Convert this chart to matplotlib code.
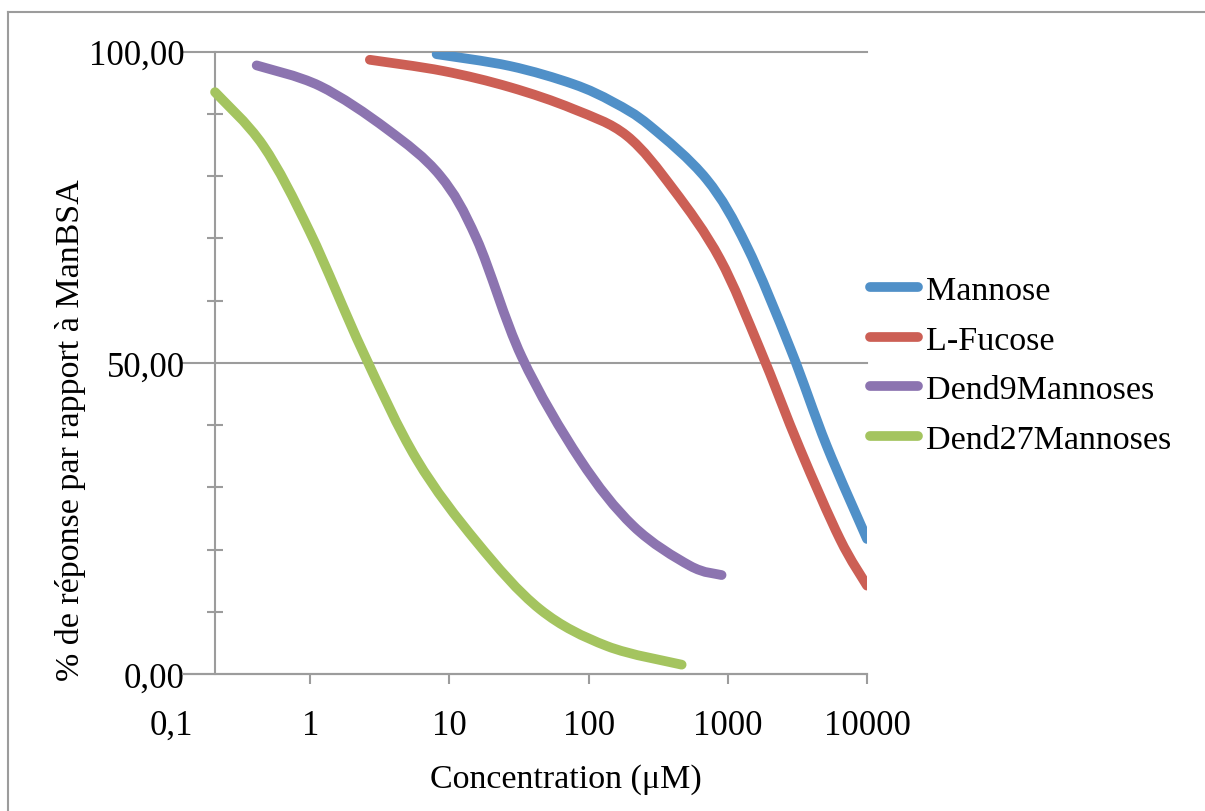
import numpy as np
import matplotlib
matplotlib.use("Agg")
import matplotlib.pyplot as plt
from matplotlib.lines import Line2D
from matplotlib.patches import PathPatch
from matplotlib.path import Path
from matplotlib.ticker import MultipleLocator, NullLocator
from matplotlib.transforms import ScaledTranslation

# values (concentration in µM, response in %)
mannose_x = [8.09, 27.2, 77.5, 150, 275, 704, 1365, 2824, 5128, 10000]
mannose_y = [99.6, 97.7, 94.8, 91.9, 88.1, 79.5, 68.8, 52.2, 36.7, 21.7]

fucose_x = [2.68, 9.02, 27.2, 77.5, 188, 406, 878, 1702, 3296, 6385, 10000]
fucose_y = [98.7, 96.9, 94.3, 90.8, 86.5, 77.9, 66.7, 52.2, 36.2, 21.7, 14.2]

dend9_x = [0.412, 1.17, 3.54, 8.55, 15.7, 33.0, 86.6, 209, 534, 902]
dend9_y = [97.8, 94.5, 87.6, 80.1, 69.9, 51.0, 34.5, 23.8, 17.4, 15.9]

dend27_x = [0.207, 0.459, 0.995, 2.40, 5.81, 15.7, 44.7, 135, 466]
dend27_y = [93.5, 84.9, 71.0, 51.7, 34.5, 21.2, 10.4, 4.5, 1.5]

labels = ["Mannose", "L-Fucose", "Dend9Mannoses", "Dend27Mannoses"]
colors = ["#5090C8", "#CC5F55", "#8C74B0", "#A4C45F"]

x_ticks = [1, 10, 100, 1000, 10000]
x_ticklabels = ["1", "10", "100", "1000", "10000"]
y_ticks = [0, 50, 100]
y_ticklabels = ["0,00", "50,00", "100,00"]

GRAY = "#9C9C9C"
LW = 7
plt.rcParams["font.family"] = ["Liberation Serif", "DejaVu Serif"]


def smooth_path(xs, ys):
    # Excel-style smoothed line: cubic Bezier through every point (log x)
    pts = np.column_stack([np.log10(xs), ys])
    ext = np.vstack([pts[0], pts, pts[-1]])
    verts = [pts[0]]
    codes = [Path.MOVETO]
    for i in range(len(pts) - 1):
        p0, p1, p2, p3 = ext[i], ext[i + 1], ext[i + 2], ext[i + 3]
        verts += [p1 + (p2 - p0) / 6, p2 - (p3 - p1) / 6, p2]
        codes += [Path.CURVE4] * 3
    verts = np.array(verts)
    verts[:, 0] = 10 ** verts[:, 0]
    return Path(verts, codes)


def main():
    fig = plt.figure(figsize=(12.05, 8.12), dpi=100)
    ax = fig.add_axes([183 / 1205, 1 - 675 / 812, 684 / 1205, 622.3 / 812])

    ax.set_xscale("log")
    ax.set_xlim(0.1218, 10000)
    ax.set_ylim(0, 100)

    series = [(mannose_x, mannose_y), (fucose_x, fucose_y),
              (dend9_x, dend9_y), (dend27_x, dend27_y)]
    handles = []
    for (xs, ys), lab, col in zip(series, labels, colors):
        patch = PathPatch(smooth_path(xs, ys), facecolor="none", edgecolor=col,
                          lw=LW, capstyle="round", joinstyle="round", zorder=3)
        ax.add_patch(patch)
        handles.append(Line2D([], [], color=col, lw=LW, solid_capstyle="round",
                              label=lab))

    ax.set_xticks(x_ticks)
    ax.set_xticklabels(x_ticklabels)
    ax.xaxis.set_minor_locator(NullLocator())
    ax.set_yticks(y_ticks)
    ax.set_yticklabels(y_ticklabels)
    ax.yaxis.set_minor_locator(MultipleLocator(10))

    for side in ["top", "right"]:
        ax.spines[side].set_visible(False)
    for side in ["left", "bottom"]:
        ax.spines[side].set_color(GRAY)
        ax.spines[side].set_linewidth(1.5)
    ax.spines["left"].set_position(("data", 0.2066))

    ax.yaxis.grid(True, color=GRAY, lw=1.5)
    for gl in ax.get_ygridlines():
        gl.set_clip_on(False)

    ax.tick_params(axis="x", which="major", direction="out", length=7.2,
                   width=1.5, color=GRAY, pad=18, labelsize=25)
    ax.tick_params(axis="y", which="major", length=0, pad=21.6, labelsize=25)
    ax.tick_params(axis="y", which="minor", direction="inout", length=11.5,
                   width=1.5, color=GRAY)

    # the 0,1 label sits left of where the axis starts
    off = ScaledTranslation(0, -(7.2 + 18) / 72, fig.dpi_scale_trans)
    ax.text(0.1, 0, "0,1", transform=ax.get_xaxis_transform() + off,
            ha="center", va="top", fontsize=25, clip_on=False)

    ax.set_xlabel("Concentration (μM)", fontsize=24.5, va="center")
    ax.xaxis.set_label_coords((566 - 183) / 684, (675 - 780) / 622.3)
    ax.set_ylabel("% de réponse par rapport à ManBSA", fontsize=24.5, va="center")
    ax.yaxis.set_label_coords((71 - 183) / 684, (675 - 430) / 622.3)

    fig.legend(handles=handles, loc="center left",
               bbox_to_anchor=(870 / 1205, 1 - 366 / 812),
               frameon=False, fontsize=24.5, handlelength=1.4, handletextpad=0.25,
               labelspacing=0.55, borderpad=0, borderaxespad=0)

    # chart border (only top and left edges show in the reference)
    fig.add_artist(Line2D([8 / 1205, 8 / 1205], [0, 1 - 13 / 812],
                          transform=fig.transFigure, color=GRAY, lw=1.5))
    fig.add_artist(Line2D([8 / 1205, 1], [1 - 13 / 812, 1 - 13 / 812],
                          transform=fig.transFigure, color=GRAY, lw=1.5))

    fig.savefig("out.png", dpi=100)


if __name__ == "__main__":
    main()
